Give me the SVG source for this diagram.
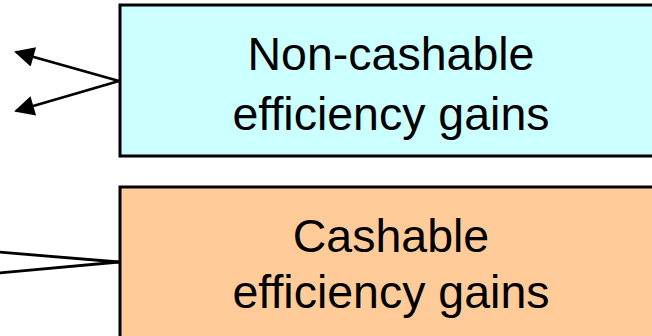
<svg xmlns="http://www.w3.org/2000/svg" width="652" height="336" viewBox="0 0 652 336">
<defs>
<style>
.box{stroke:#000;stroke-width:3}
.lbl{font-family:"Liberation Sans",Arial,sans-serif;font-size:46.5px;fill:#000;text-anchor:middle}
.ln{stroke:#000;stroke-width:2.8;fill:none}
</style>
<marker id="ahb" viewBox="0 0 10 10" refX="9" refY="5" markerWidth="24" markerHeight="20" markerUnits="userSpaceOnUse" orient="auto">
<path d="M0,0 L10,5 L0,10 z" fill="#000"/>
</marker>
</defs>
<g id="connectors">
<line class="ln" x1="119" y1="81" x2="16" y2="52" marker-end="url(#ahb)"/>
<line class="ln" x1="119" y1="81" x2="16" y2="111" marker-end="url(#ahb)"/>
<line class="ln" x1="119" y1="262" x2="-2" y2="252"/>
<line class="ln" x1="119" y1="262" x2="-2" y2="273"/>
</g>
<g id="noncashable">
<rect class="box" x="120" y="5" width="545" height="151" fill="#CCFFFF"/>
<text class="lbl" x="391" y="70">Non-cashable</text>
<text class="lbl" x="391" y="130">efficiency gains</text>
</g>
<g id="cashable">
<rect class="box" x="120" y="187" width="545" height="160" fill="#FFCC99"/>
<text class="lbl" x="391" y="252">Cashable</text>
<text class="lbl" x="391" y="308">efficiency gains</text>
</g>
</svg>
